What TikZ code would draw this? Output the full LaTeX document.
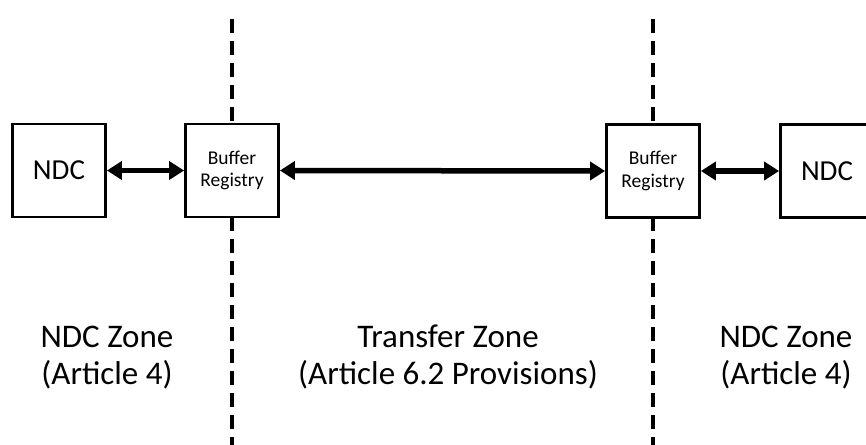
\documentclass[tikz,border=0pt]{standalone}
\usepackage{fontspec}
\setmainfont{Carlito}
\usetikzlibrary{arrows.meta}
\tikzset{
  boxnode/.style={draw=black, line width=2.8pt, fill=white, minimum width=93pt, minimum height=93pt, inner sep=0pt},
  bigtxt/.style={font=\fontsize{29}{35}\selectfont},
  smalltxt/.style={font=\fontsize{19.5}{22.5}\selectfont, align=center},
  zonetxt/.style={font=\fontsize{33}{37}\selectfont, align=center, inner sep=0pt},
  dashline/.style={line width=3.6pt, dash pattern=on 14pt off 8pt},
  biarrow/.style={line width=5.5pt, {Triangle[length=15pt,width=18pt]}-{Triangle[length=15pt,width=18pt]}}
}
\begin{document}
\begin{tikzpicture}[x=1pt,y=-1pt]
\clip (0,0) rectangle (866,444);
\fill[white] (0,0) rectangle (866,444);
% zone separators
\coordinate (d1t) at (232,19);
\coordinate (d1b) at (232,450);
\coordinate (d2t) at (653,19);
\coordinate (d2b) at (653,450);
\draw[dashline] (d1t) -- (d1b);
\draw[dashline] (d2t) -- (d2b);
% boxes
\node[boxnode, bigtxt] (ndcL) at (59,170.5) {NDC};
\node[boxnode, smalltxt] (bufL) at (232,170.5) {Buffer\\Registry};
\node[boxnode, smalltxt] (bufR) at (653,171) {Buffer\\Registry};
\node[boxnode, bigtxt] (ndcR) at (827,171) {NDC};
% arrows
\draw[biarrow] (ndcL.east) -- (bufL.west);
\draw[biarrow] (bufL.east) -- (bufR.west);
\draw[biarrow] (bufR.east) -- (ndcR.west);
% zone labels
\node[zonetxt] (zL) at (107,358) {NDC Zone\\(Article 4)};
\node[zonetxt] (zM) at (448,357) {Transfer Zone\\(Article 6.2 Provisions)};
\node[zonetxt] (zR) at (786,358) {NDC Zone\\(Article 4)};
\end{tikzpicture}
\end{document}
